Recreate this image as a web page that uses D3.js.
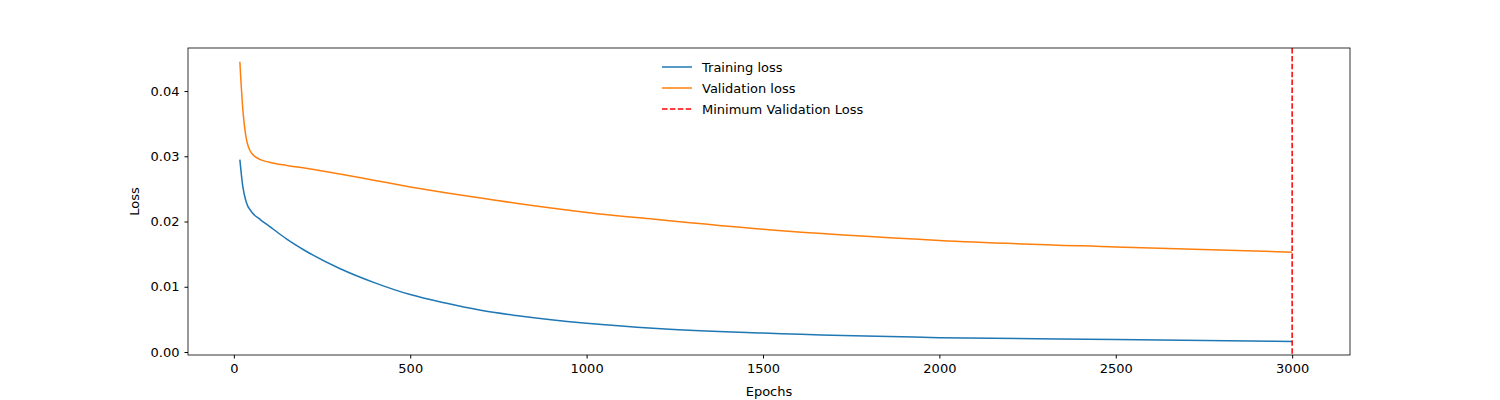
<!DOCTYPE html>
<html><head><meta charset="utf-8">
<script src="https://cdn.jsdelivr.net/npm/d3@7"></script>
<style>body{margin:0;background:#fff}text{font-family:"DejaVu Sans",sans-serif}</style>
</head><body><svg id="c" width="1500" height="400"></svg>
<script>
// epochs and losses
const epochs = [17, 25, 35, 50, 75, 100, 150, 200, 300, 400, 500, 600, 700, 800, 1000, 1200, 1500, 2000, 2500, 3000];
const trainLoss = [0.0295, 0.0255, 0.0230, 0.0215, 0.0203, 0.0193, 0.0173, 0.0156, 0.0128, 0.0106, 0.0088, 0.0075, 0.0064, 0.0056, 0.0044, 0.0036, 0.0029, 0.0022, 0.0019, 0.0016];
const valLoss = [0.0445, 0.0375, 0.0328, 0.0305, 0.0295, 0.0291, 0.0286, 0.0282, 0.0273, 0.0263, 0.0253, 0.0244, 0.0236, 0.0228, 0.0214, 0.0203, 0.0188, 0.0171, 0.0161, 0.0153];
const minEpoch = 3000;
const xTicks = [0, 500, 1000, 1500, 2000, 2500, 3000];
const yTicks = [0, 0.01, 0.02, 0.03, 0.04];

const svg = d3.select('#c');
const L = 188, R = 1350, T = 48, B = 355;
const x = d3.scaleLinear().domain([-130, 3164]).range([L, R]);
const y = d3.scaleLinear().domain([-0.00046, 0.0466]).range([B, T]);

const line = (vals) => d3.line().x((d, i) => x(epochs[i])).y(d => y(d)).curve(d3.curveMonotoneX)(vals);
svg.append('path').attr('d', line(trainLoss)).attr('fill', 'none').attr('stroke', '#1f77b4').attr('stroke-width', 1.5);
svg.append('path').attr('d', line(valLoss)).attr('fill', 'none').attr('stroke', '#ff7f0e').attr('stroke-width', 1.5);
svg.append('line').attr('x1', x(minEpoch)).attr('x2', x(minEpoch)).attr('y1', T).attr('y2', B)
  .attr('stroke', 'red').attr('stroke-width', 1.5).attr('stroke-dasharray', '5.5,2.4');

const gx = svg.append('g').attr('transform', `translate(0,${B})`)
  .call(d3.axisBottom(x).tickValues(xTicks).tickSize(3.5).tickPadding(5).tickFormat(d3.format('d')));
const gy = svg.append('g').attr('transform', `translate(${L},0)`)
  .call(d3.axisLeft(y).tickValues(yTicks).tickSize(3.5).tickPadding(5).tickFormat(d3.format('.2f')));
[gx, gy].forEach(g => { g.select('.domain').remove(); g.selectAll('text').attr('font-size', 13).attr('fill', '#000').style('font-family', 'DejaVu Sans'); });
svg.append('rect').attr('x', L).attr('y', T).attr('width', R - L).attr('height', B - T).attr('fill', 'none').attr('stroke', '#000').attr('stroke-width', 0.8);

svg.append('text').attr('x', (L + R) / 2).attr('y', 396).attr('text-anchor', 'middle').attr('font-size', 13).text('Epochs');
svg.append('text').attr('transform', `translate(139,${(T + B) / 2}) rotate(-90)`).attr('text-anchor', 'middle').attr('font-size', 13).text('Loss');

const legend = [['Training loss', '#1f77b4', null], ['Validation loss', '#ff7f0e', null], ['Minimum Validation Loss', 'red', '5.5,2.4']];
legend.forEach((l, i) => {
  const yy = 67 + i * 21;
  svg.append('line').attr('x1', 662).attr('x2', 692).attr('y1', yy).attr('y2', yy).attr('stroke', l[1]).attr('stroke-width', 1.5).attr('stroke-dasharray', l[2]);
  svg.append('text').attr('x', 702).attr('y', yy + 4.5).attr('font-size', 13).text(l[0]);
});
</script></body></html>
